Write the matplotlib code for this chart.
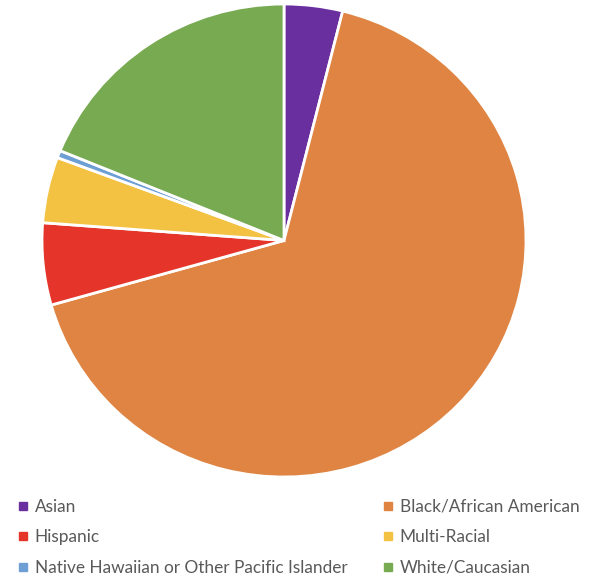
import matplotlib.pyplot as plt
from matplotlib.lines import Line2D

# ethnicity breakdown (percent)
labels = ['Asian', 'Black/African American', 'Hispanic', 'Multi-Racial',
          'Native Hawaiian or Other Pacific Islander', 'White/Caucasian']
shares = [3.9, 66.7, 5.6, 4.5, 0.5, 18.8]
colors = ['#6A2F9E', '#DF8442', '#E5352A', '#F4C243', '#6E9FD4', '#78AA52']

W, H = 601, 577
fig = plt.figure(figsize=(W / 100, H / 100), dpi=100)

# pie bounding box in pixels (slightly squashed vertically)
left_px, right_px, top_px, bottom_px = 42, 526, 4, 477
ax = fig.add_axes([left_px / W, (H - bottom_px) / H,
                   (right_px - left_px) / W, (bottom_px - top_px) / H])
ax.pie(shares, colors=colors, startangle=90, counterclock=False,
       wedgeprops=dict(edgecolor='white', linewidth=2))
ax.set_xlim(-1, 1)
ax.set_ylim(-1, 1)
ax.set_aspect('auto')
ax.axis('off')

def handles(idx):
    return [Line2D([], [], marker='s', linestyle='', color=colors[i], markersize=6)
            for i in idx]

leg_kw = dict(loc='upper left', frameon=False, handletextpad=0.2,
              labelspacing=0.83, borderpad=0, borderaxespad=0, handlelength=1.0,
              prop={'family': 'Lato', 'size': 12.4}, labelcolor='#595959')

left = [0, 2, 4]
right = [1, 3, 5]
fig.legend(handles(left), [labels[i] for i in left],
           bbox_to_anchor=(14 / W, 1 - 499 / H), **leg_kw)
fig.legend(handles(right), [labels[i] for i in right],
           bbox_to_anchor=(379 / W, 1 - 499 / H), **leg_kw)

fig.savefig('out.png', dpi=100, facecolor='white')
